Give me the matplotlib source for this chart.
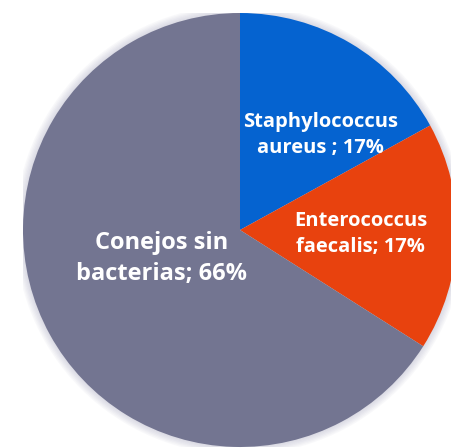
import matplotlib.pyplot as plt
from matplotlib.patches import Circle

labels = ['Staphylococcus\naureus ; 17%', 'Enterococcus\nfaecalis; 17%', 'Conejos sin\nbacterias; 66%']
values = [17, 17, 66]
colors = ['#0563d0', '#e8420e', '#737591']
label_sizes = [14.5, 14.5, 17]

fig = plt.figure(figsize=(4.52, 4.48), dpi=100)
ax = fig.add_axes([23 / 452, 1 / 448, 434 / 452, 434 / 448])

# soft halo around the pie
for i in range(6):
    ax.add_patch(Circle((0, 0), 1 + 0.006 * (i + 1), color='#8888aa', alpha=0.05, lw=0, zorder=0))

ax.pie(values, colors=colors, startangle=90, counterclock=False, radius=1,
       wedgeprops=dict(linewidth=0))

# label positions (pie units)
pos = [(0.37, 0.44), (0.555, -0.02), (-0.36, -0.13)]
for lab, (x, y), fs in zip(labels, pos, label_sizes):
    ax.text(x, y, lab, ha='center', va='center', color='white', fontsize=fs,
            fontweight='bold', family=['Open Sans', 'DejaVu Sans'], linespacing=1.4)

ax.set_xlim(-1, 1)
ax.set_ylim(-1, 1)
ax.set_aspect('equal')
ax.axis('off')
fig.savefig('out.png', dpi=100)
